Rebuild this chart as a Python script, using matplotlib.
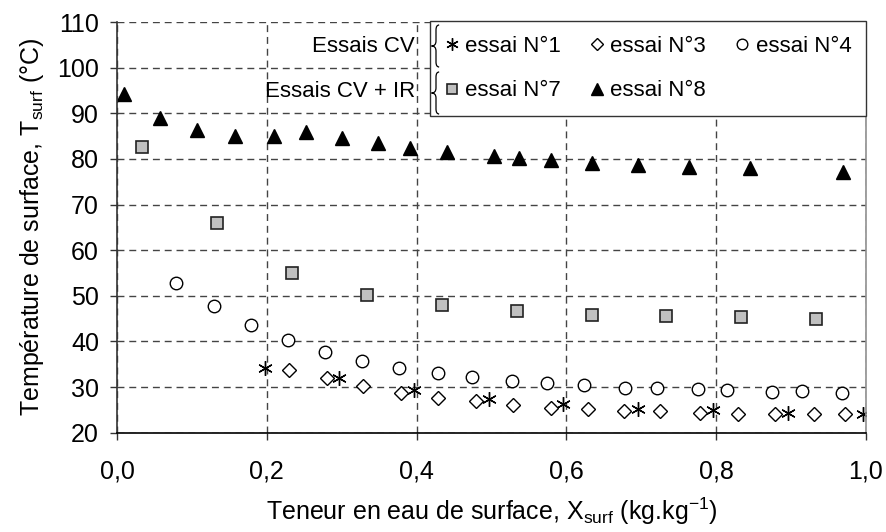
import numpy as np
import matplotlib
matplotlib.use("Agg")
import matplotlib.pyplot as plt
from matplotlib.path import Path
from matplotlib.patches import PathPatch
from matplotlib.lines import Line2D

plt.rcParams['font.family'] = ['Liberation Sans', 'DejaVu Sans']
plt.rcParams['mathtext.fontset'] = 'custom'
plt.rcParams['mathtext.rm'] = 'Liberation Sans'
plt.rcParams['mathtext.default'] = 'regular'

# essai N°1 (CV)
x1 = [0.197, 0.297, 0.397, 0.496, 0.596, 0.696, 0.796, 0.896, 0.996]
y1 = [34.1, 31.9, 29.3, 27.4, 26.2, 25.3, 25.0, 24.3, 24.2]
# essai N°3 (CV)
x3 = [0.230, 0.280, 0.329, 0.379, 0.428, 0.479, 0.529, 0.579, 0.629, 0.677,
      0.725, 0.778, 0.829, 0.879, 0.930, 0.972]
y3 = [33.7, 31.9, 30.2, 28.7, 27.5, 26.9, 26.1, 25.5, 25.1, 24.7,
      24.7, 24.4, 24.1, 24.1, 24.0, 24.2]
# essai N°4 (CV)
x4 = [0.079, 0.129, 0.179, 0.228, 0.278, 0.327, 0.376, 0.428, 0.474, 0.528,
      0.574, 0.623, 0.678, 0.721, 0.776, 0.814, 0.874, 0.914, 0.968]
y4 = [52.9, 47.8, 43.6, 40.4, 37.6, 35.7, 34.2, 33.0, 32.2, 31.4,
      30.9, 30.4, 29.9, 29.9, 29.5, 29.3, 29.0, 29.2, 28.8]
# essai N°7 (CV + IR)
x7 = [0.034, 0.134, 0.234, 0.334, 0.434, 0.534, 0.634, 0.733, 0.833, 0.933]
y7 = [82.6, 65.9, 55.0, 50.2, 47.9, 46.6, 45.9, 45.5, 45.3, 45.0]
# essai N°8 (CV + IR)
x8 = [0.009, 0.057, 0.107, 0.157, 0.209, 0.253, 0.301, 0.349, 0.391, 0.440,
      0.503, 0.537, 0.580, 0.634, 0.695, 0.764, 0.845, 0.969]
y8 = [94.3, 88.9, 86.3, 85.0, 85.0, 85.9, 84.5, 83.4, 82.3, 81.6,
      80.6, 80.3, 79.7, 79.2, 78.6, 78.2, 77.9, 77.1]

xticks = [0.0, 0.2, 0.4, 0.6, 0.8, 1.0]
xtick_labels = ['0,0', '0,2', '0,4', '0,6', '0,8', '1,0']
yticks = [20, 30, 40, 50, 60, 70, 80, 90, 100, 110]

W, H = 886, 532
fig = plt.figure(figsize=(W / 100, H / 100), dpi=100)
ax = fig.add_axes([117 / W, 1 - 432.7 / H, (866 - 117) / W, (432.7 - 22) / H])

fs = 18      # ticks / axis titles
fs_leg = 16

h1, = ax.plot(x1, y1, ls='none', marker=(6, 2, 0), ms=10.5, mec='black', mew=1.0,
              label='essai N°1')
h3, = ax.plot(x3, y3, ls='none', marker='D', ms=6.8, mfc='white', mec='black',
              mew=1.0, label='essai N°3')
h4, = ax.plot(x4, y4, ls='none', marker='o', ms=9, mfc='white', mec='black',
              mew=1.0, label='essai N°4')
h7, = ax.plot(x7, y7, ls='none', marker='s', ms=8.5, mfc='#c0c0c0', mec='#222222',
              mew=1.2, label='essai N°7')
h8, = ax.plot(x8, y8, ls='none', marker='^', ms=10, mfc='black', mec='black',
              label='essai N°8')

ax.set_xlim(0, 1)
ax.set_ylim(20, 110)
ax.set_xticks(xticks)
ax.set_xticklabels(xtick_labels)
ax.set_yticks(yticks)
ax.tick_params(axis='both', direction='out', length=5, width=1, labelsize=fs,
               color='#333333')
ax.tick_params(axis='y', pad=8)
ax.tick_params(axis='x', pad=14)

ax.grid(True, color='#444444', lw=1, ls=(0, (5, 3.5)))
ax.set_axisbelow(True)
ax.spines['top'].set_visible(False)
ax.spines['right'].set_color('#909090')
ax.spines['left'].set_color('#333333')
ax.spines['bottom'].set_color('black')
for s in ax.spines.values():
    s.set_linewidth(1.2)

ax.set_xlabel('Teneur en eau de surface, X$_{surf}$ (kg.kg$^{-1}$)', fontsize=fs,
              labelpad=9)
ax.set_ylabel('Température de surface, T$_{surf}$ (°C)', fontsize=fs, labelpad=8)

# legend laid out column by column: row 1 = CV runs, row 2 = CV + IR runs
blank = Line2D([], [], ls='none', marker=None)
leg = ax.legend([h1, h7, h3, h8, h4, blank],
                ['essai N°1', 'essai N°7', 'essai N°3', 'essai N°8', 'essai N°4', ''],
                ncol=3, loc='upper right', bbox_to_anchor=(1.0, 1.0025),
                fontsize=fs_leg, markerscale=0.85, frameon=True, fancybox=False,
                edgecolor='#333333', framealpha=1, handlelength=0.6,
                handletextpad=0.32, columnspacing=1.3, labelspacing=1.07,
                borderpad=0.66, borderaxespad=0)
leg.get_frame().set_linewidth(1.0)

fx = lambda px: px / W
fy = lambda py: 1 - py / H
fig.text(fx(415), fy(46.7), 'Essais CV', ha='right', va='center', fontsize=fs_leg)
fig.text(fx(415), fy(91.7), 'Essais CV + IR', ha='right', va='center', fontsize=fs_leg)


def brace(x0, yt, yb, w=4.5):
    ym = (yt + yb) / 2
    h = yb - yt
    pts = [(x0 + w * 0.7, yt), (x0, yt), (x0, yt + h * 0.12),
           (x0, ym - h * 0.12), (x0, ym), (x0 - w, ym),
           (x0, ym), (x0, ym + h * 0.12),
           (x0, yb - h * 0.12), (x0, yb), (x0 + w * 0.7, yb)]
    codes = [Path.MOVETO, Path.CURVE3, Path.CURVE3, Path.LINETO, Path.CURVE3, Path.CURVE3,
             Path.CURVE3, Path.CURVE3, Path.LINETO, Path.CURVE3, Path.CURVE3]
    verts = [(fx(x), fy(y)) for x, y in pts]
    fig.add_artist(PathPatch(Path(verts, codes), fill=False, lw=0.9, ec='black',
                             transform=fig.transFigure))


brace(436, 25, 67)
brace(436, 72, 114)

fig.savefig('out.png', dpi=100)
